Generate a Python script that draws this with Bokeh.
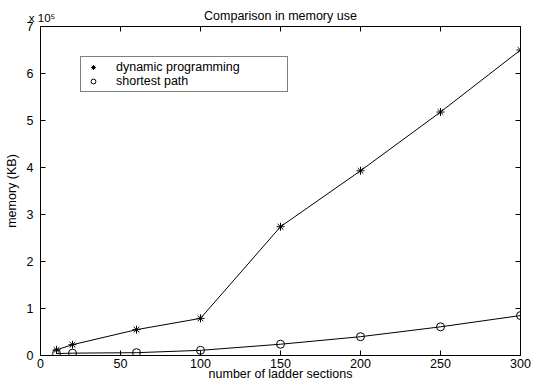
from bokeh.plotting import figure
from bokeh.models import (Range1d, FixedTicker, CustomJSTickFormatter, LinearAxis,
                          Legend, LegendItem, ColumnDataSource)
from bokeh.embed import file_html
from bokeh.resources import INLINE

# ---- data ----
sections = [10, 20, 60, 100, 150, 200, 250, 300]
dynamic_programming = [12000, 23000, 55000, 79000, 274000, 393000, 518000, 650000]
shortest_path = [4000, 5000, 6000, 11000, 24000, 40000, 61000, 85000]
x_ticks = [0, 50, 100, 150, 200, 250, 300]
y_ticks = [0, 100000, 200000, 300000, 400000, 500000, 600000, 700000]
title_text = "Comparison in memory use"
exponent_text = "x 10\u2075"
x_label = "number of ladder sections"
y_label = "memory (KB)"
series_names = ["dynamic programming", "shortest path"]

FONT = "Liberation Sans"
FS = "12.5px"

p = figure(width=537, height=383, output_backend="svg", toolbar_location=None,
           title=None, x_range=Range1d(0, 300), y_range=Range1d(0, 700000),
           min_border_left=40, min_border_right=17, min_border_top=26, min_border_bottom=27,
           background_fill_color="white", border_fill_color="white")
p.grid.visible = False
p.outline_line_color = "black"
p.outline_line_width = 1


def style_axis(ax):
    ax.major_tick_in = 5
    ax.major_tick_out = 0
    ax.minor_tick_line_color = None
    ax.axis_line_color = "black"
    ax.major_tick_line_color = "black"
    ax.major_label_text_font = FONT
    ax.major_label_text_font_size = FS
    ax.major_label_text_color = "black"
    ax.axis_label_text_font = FONT
    ax.axis_label_text_font_size = FS
    ax.axis_label_text_font_style = "normal"
    ax.axis_label_text_color = "black"


p.xaxis.ticker = FixedTicker(ticks=x_ticks)
p.yaxis.ticker = FixedTicker(ticks=y_ticks)
p.yaxis.formatter = CustomJSTickFormatter(code="return (tick/1e5).toFixed(0);")
style_axis(p.xaxis[0])
style_axis(p.yaxis[0])
p.xaxis.major_label_standoff = 3
p.xaxis.axis_label = x_label
p.xaxis.axis_label_standoff = -4
p.yaxis.major_label_standoff = 7
p.yaxis.axis_label = y_label
p.yaxis.axis_label_standoff = 5

# top axis: ticks, the "x 10^5" multiplier at x=0, and the title as its label
top = LinearAxis(ticker=FixedTicker(ticks=x_ticks),
                 formatter=CustomJSTickFormatter(args=dict(lbl=exponent_text),
                                                 code="return tick == 0 ? '\\u00a0' + lbl : '';"))
style_axis(top)
top.major_label_text_font_size = "11.5px"
top.major_label_text_align = "left"
top.major_label_standoff = 3
top.axis_label = title_text
top.axis_label_standoff = -14

right = LinearAxis(ticker=FixedTicker(ticks=y_ticks),
                   formatter=CustomJSTickFormatter(code="return '';"))
style_axis(right)
right.major_label_standoff = 0
p.add_layout(top, "above")
p.add_layout(right, "right")

src = ColumnDataSource(dict(x=sections, dp=dynamic_programming, sp=shortest_path))
p.line("x", "dp", source=src, line_color="black", line_width=1)
p.line("x", "sp", source=src, line_color="black", line_width=1)
s1 = p.scatter("x", "dp", source=src, marker="asterisk", size=8, line_color="black", line_width=1)
s2 = p.scatter("x", "sp", source=src, marker="circle", size=8, line_color="black",
               fill_color=None, line_width=1)

legend = Legend(items=[LegendItem(label=series_names[0], renderers=[s1]),
                       LegendItem(label=series_names[1], renderers=[s2])],
                location=(40, 263), orientation="vertical",
                padding=3, spacing=-5, margin=0,
                glyph_width=18, glyph_height=12, label_height=12, label_width=168,
                label_standoff=14, border_line_color="black", border_line_width=1,
                background_fill_color="white", background_fill_alpha=1,
                label_text_font=FONT, label_text_font_size=FS, label_text_color="black")
p.add_layout(legend, "center")

open("out.html", "w").write(file_html(p, INLINE))
